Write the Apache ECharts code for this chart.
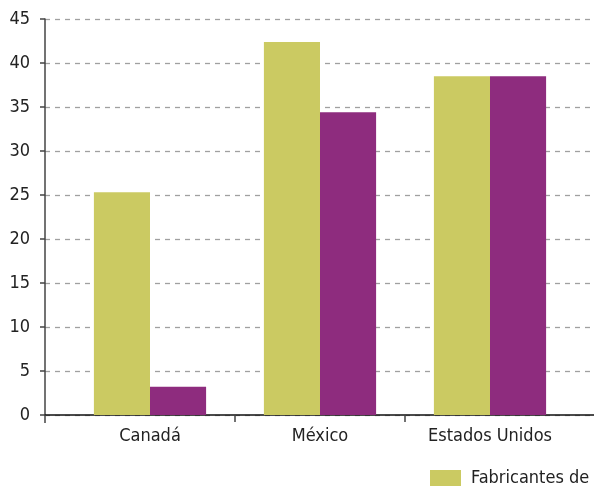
<!DOCTYPE html>
<html>
<head>
<meta charset="utf-8">
<script src="https://cdn.jsdelivr.net/npm/echarts@6/dist/echarts.min.js"></script>
<style>
html,body{margin:0;padding:0;background:#fff;}
#c{width:594px;height:490px;}
</style>
</head>
<body>
<div id="c"></div>
<script>
var categories = ['Canadá', 'México', 'Estados Unidos'];
var seriesNames = ['Fabricantes de vehículos', 'Fabricantes de autopartes'];
var seriesA = [25.3, 42.4, 38.5];
var seriesB = [3.2, 34.4, 38.5];
var yTicks = [0, 5, 10, 15, 20, 25, 30, 35, 40, 45];

var FONT = '"Liberation Sans Narrow", "DejaVu Sans Condensed", "Roboto", sans-serif';
var chart = echarts.init(document.getElementById('c'));
var yMin = yTicks[0], yMax = yTicks[yTicks.length - 1], yStep = yTicks[1] - yTicks[0];
// one empty trailing band so the chart continues past the right edge (cropped like the source)
var axisCats = categories.concat(['']);

chart.setOption({
  animation: false,
  textStyle: { fontFamily: FONT },
  grid: [
    { left: 45, width: 640, top: 19, bottom: 75, outerBoundsMode: 'none', containLabel: false },
    { left: 65, width: 680, top: 19, bottom: 75, outerBoundsMode: 'none', containLabel: false }
  ],
  legend: {
    data: seriesNames,
    left: 425, top: 464,
    itemWidth: 31, itemHeight: 16, itemGap: 30,
    textStyle: { fontFamily: FONT, fontSize: 18, color: '#222', padding: [0, 0, 0, 5] },
    icon: 'rect'
  },
  xAxis: [
    {
      gridIndex: 0, type: 'category', data: [''],
      boundaryGap: true,
      axisLine: { lineStyle: { color: '#111', width: 1.5 } },
      axisTick: { show: true, length: 8, lineStyle: { color: '#444', width: 1.5 } },
      axisLabel: { show: false }
    },
    {
      gridIndex: 1, type: 'category', data: axisCats,
      axisLine: { show: false },
      axisTick: { show: true, length: 7, interval: function (i) { return i === 1 || i === 2; }, lineStyle: { color: '#444', width: 1.5 } },
      axisLabel: { fontFamily: FONT, fontSize: 18, color: '#222', margin: 12, interval: 0 }
    }
  ],
  yAxis: [
    {
      gridIndex: 0, type: 'value', min: yMin, max: yMax, interval: yStep,
      axisLine: { show: true, lineStyle: { color: '#444', width: 1.5 } },
      axisTick: { show: true, length: 5, lineStyle: { color: '#444', width: 1.5 } },
      axisLabel: { fontFamily: FONT, fontSize: 18, color: '#222', margin: 15 },
      splitLine: { show: true, lineStyle: { color: '#a0a0a0', type: [5, 5], width: 1.3 } }
    },
    {
      gridIndex: 1, type: 'value', min: yMin, max: yMax, interval: yStep,
      show: false, splitLine: { show: false }
    }
  ],
  series: [
    {
      name: seriesNames[0], type: 'bar', xAxisIndex: 1, yAxisIndex: 1,
      data: seriesA, barGap: '0%', barCategoryGap: '34%',
      itemStyle: { color: '#CBCA62' }
    },
    {
      name: seriesNames[1], type: 'bar', xAxisIndex: 1, yAxisIndex: 1,
      data: seriesB, barGap: '0%', barCategoryGap: '34%',
      itemStyle: { color: '#8E2C7E' }
    }
  ]
});
</script>
</body>
</html>
